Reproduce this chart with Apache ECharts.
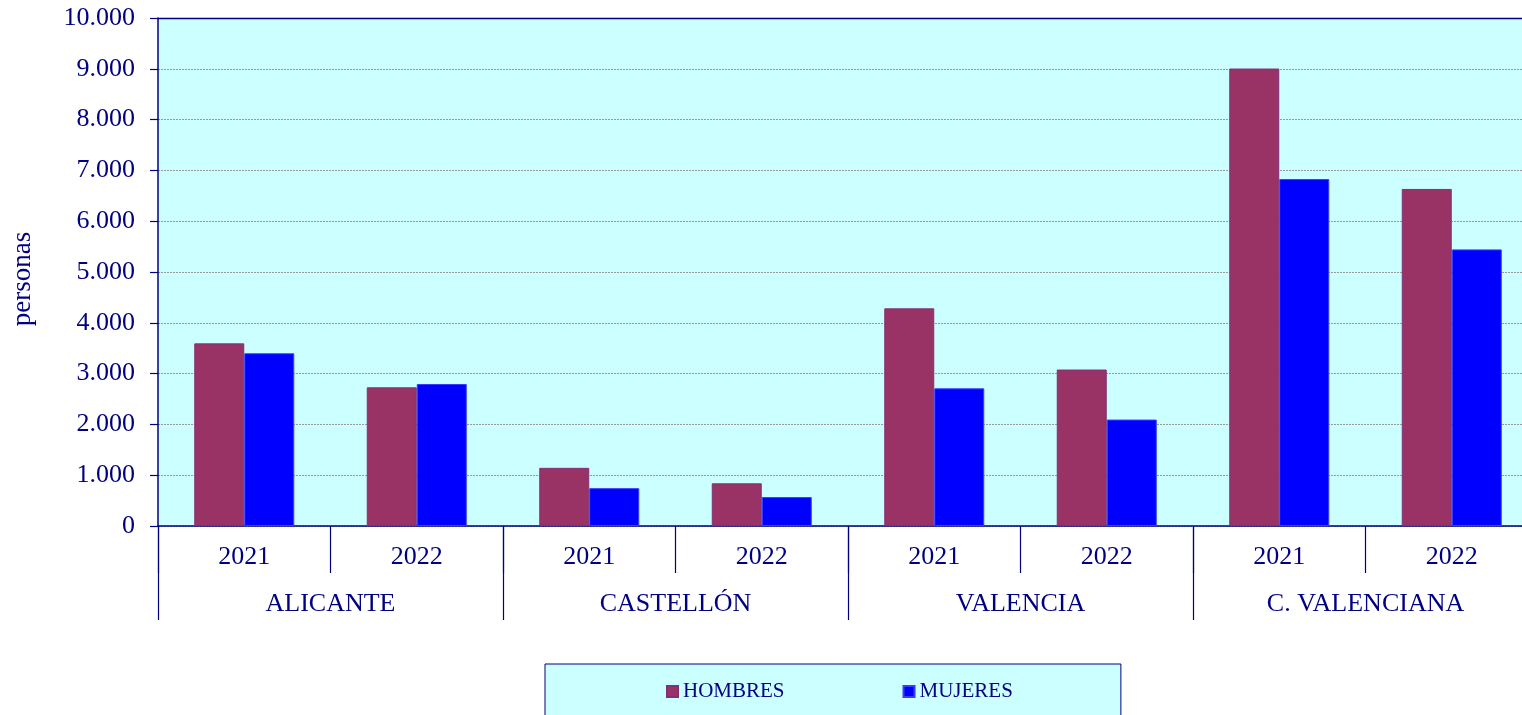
<!DOCTYPE html>
<html>
<head>
<meta charset="utf-8">
<script src="https://cdn.jsdelivr.net/npm/echarts@6/dist/echarts.min.js"></script>
<style>
  html, body { margin: 0; padding: 0; background: #fff; overflow: hidden; width: 1522px; height: 715px; }
  #chart { width: 1540px; height: 715px; }
</style>
</head>
<body>
<div id="chart"></div>
<script>
var years = ['2021', '2022', '2021', '2022', '2021', '2022', '2021', '2022'];
var provincias = ['ALICANTE', 'CASTELLÓN', 'VALENCIA', 'C. VALENCIANA'];
var hombres = [3595, 2730, 1145, 840, 4285, 3080, 9005, 6635];
var mujeres = [3400, 2795, 745, 570, 2710, 2095, 6830, 5445];
var yTicks = [0, 1000, 2000, 3000, 4000, 5000, 6000, 7000, 8000, 9000, 10000];

var navy = '#000080';
var serif = "'Liberation Serif', 'Times New Roman', serif";

function miles(v) {
    return String(v).replace(/\B(?=(\d{3})+(?!\d))/g, '.');
}

// el lienzo es algo más ancho que la ventana: el gráfico original se corta por la derecha
var myChart = echarts.init(document.getElementById('chart'));

var option = {
    backgroundColor: '#ffffff',
    textStyle: { fontFamily: serif, color: navy },
    grid: {
        left: 158,
        top: 18,
        width: 1380,
        height: 508,
        show: true,
        backgroundColor: '#CCFFFF',
        borderColor: navy,
        borderWidth: 0
    },
    legend: {
        left: 545,
        top: 664,
        padding: [17, 108, 40, 121],
        itemGap: 118,
        itemWidth: 11,
        itemHeight: 11,
        icon: 'rect',
        backgroundColor: '#CCFFFF',
        borderColor: navy,
        borderWidth: 1,
        borderRadius: 0,
        textStyle: { fontFamily: serif, fontSize: 21, color: navy, padding: [2, 0, 0, 0] },
        data: ['HOMBRES', 'MUJERES']
    },
    xAxis: [{
        type: 'category',
        data: years,
        position: 'bottom',
        axisLine: { show: true, lineStyle: { color: navy, width: 1.5 } },
        axisTick: { show: true, length: 47, interval: 0, lineStyle: { color: navy, width: 1.2 } },
        axisLabel: { margin: 18, fontSize: 26, color: navy, fontFamily: serif, interval: 0 },
        splitLine: { show: false }
    }, {
        type: 'category',
        data: provincias,
        position: 'bottom',
        axisLine: { show: false },
        axisTick: { show: true, length: 94, interval: 0, lineStyle: { color: navy, width: 1.2 } },
        axisLabel: { margin: 65, fontSize: 26, color: navy, fontFamily: serif, interval: 0 },
        splitLine: { show: false }
    }],
    yAxis: {
        type: 'value',
        min: yTicks[0],
        max: yTicks[yTicks.length - 1],
        interval: 1000,
        name: 'personas',
        nameLocation: 'middle',
        nameGap: 122,
        nameRotate: 90,
        nameTextStyle: { fontFamily: serif, fontSize: 27, color: navy, padding: [0, 0, 0, -14] },
        axisLine: { show: true, lineStyle: { color: navy, width: 1.5 } },
        axisTick: { show: true, length: 8, inside: false, lineStyle: { color: navy, width: 1.2 } },
        axisLabel: {
            margin: 23,
            fontSize: 26,
            color: navy,
            fontFamily: serif,
            formatter: function (v) { return miles(v); }
        },
        splitLine: {
            show: true,
            lineStyle: { color: '#999999', type: [2, 1], width: 1 }
        }
    },
    series: [{
        name: 'HOMBRES',
        type: 'bar',
        data: hombres,
        barWidth: 50,
        barGap: '0%',
        itemStyle: { color: '#993366', borderColor: '#80307a', borderWidth: 1 }
    }, {
        name: 'MUJERES',
        type: 'bar',
        data: mujeres,
        barWidth: 50,
        barGap: '0%',
        itemStyle: { color: '#0000FF', borderColor: '#3b3bff', borderWidth: 1 }
    }],
    graphic: [{
        type: 'line',
        shape: { x1: 158, y1: 18.5, x2: 1540, y2: 18.5 },
        style: { stroke: navy, lineWidth: 1.5 },
        z: 10
    }]
};

myChart.setOption(option);
</script>
</body>
</html>
